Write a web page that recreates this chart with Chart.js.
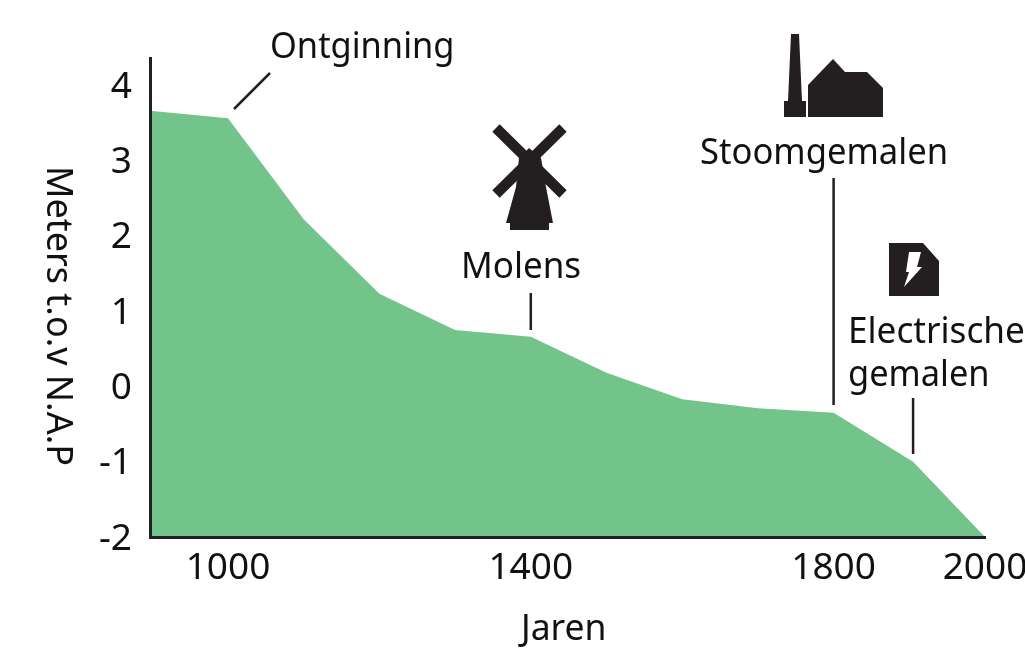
<!DOCTYPE html>
<html lang="en">
<head>
    <meta charset="UTF-8">
    <title>Jaren</title>
    <script src="https://cdn.jsdelivr.net/npm/chart.js"></script>
    <style>
        html, body { margin: 0; padding: 0; background: #fff; overflow: hidden; }
        #wrap { width: 1025px; height: 648px; }
    </style>
</head>
<body>
    <div id="wrap"><canvas id="chart" width="1025" height="648"></canvas></div>

    <script>
        // Values
        const years = [897, 1000, 1100, 1200, 1300, 1400, 1500, 1600, 1700, 1800, 1905, 2000];
        const heights = [3.66, 3.56, 2.22, 1.23, 0.75, 0.66, 0.18, -0.17, -0.29, -0.35, -1.0, -2];
        const xTicks = [1000, 1400, 1800, 2000];
        const yTicks = [-2, -1, 0, 1, 2, 3, 4];
        const xTitle = 'Jaren';
        const yTitle = 'Meters t.o.v N.A.P';

        const ink = '#231f20';
        const green = '#73c48a';
        const fontName = '"Noto Sans"';

        function poly(ctx, pts, color) {
            ctx.fillStyle = color;
            ctx.beginPath();
            pts.forEach((p, i) => i ? ctx.lineTo(p[0], p[1]) : ctx.moveTo(p[0], p[1]));
            ctx.closePath();
            ctx.fill();
        }

        function leader(ctx, x1, y1, x2, y2) {
            ctx.strokeStyle = ink;
            ctx.lineWidth = 2.5;
            ctx.beginPath();
            ctx.moveTo(x1, y1);
            ctx.lineTo(x2, y2);
            ctx.stroke();
        }

        // text is a bit narrower than Noto Sans, so squeeze it horizontally
        function label(ctx, text, x, y, squeeze) {
            ctx.save();
            ctx.translate(x, y);
            ctx.scale(squeeze, 1);
            ctx.fillStyle = '#111';
            ctx.font = '37px ' + fontName;
            ctx.textAlign = 'left';
            ctx.textBaseline = 'alphabetic';
            ctx.fillText(text, 0, 0);
            ctx.restore();
        }

        // Annotations, icons and the axis titles
        const notes = {
            id: 'notes',
            afterDraw(chart) {
                const ctx = chart.ctx;
                const sx = chart.scales.x;
                ctx.save();

                label(ctx, 'Ontginning', 270, 58, 0.93);
                label(ctx, 'Molens', 461, 278, 0.946);
                label(ctx, 'Stoomgemalen', 700, 164, 0.935);
                label(ctx, 'Electrische', 848, 343, 0.95);
                label(ctx, 'gemalen', 848, 386, 0.93);
                label(ctx, xTitle, 521, 640, 0.96);

                ctx.lineCap = 'butt';
                leader(ctx, 234, 109, 270, 73);
                leader(ctx, sx.getPixelForValue(1400), 293, sx.getPixelForValue(1400), 330);
                leader(ctx, sx.getPixelForValue(1800), 178, sx.getPixelForValue(1800), 405);
                leader(ctx, sx.getPixelForValue(1905), 398, sx.getPixelForValue(1905), 454);

                // molen
                ctx.strokeStyle = ink;
                ctx.lineWidth = 10.5;
                ctx.beginPath();
                ctx.moveTo(496, 128); ctx.lineTo(563, 194);
                ctx.moveTo(563, 128); ctx.lineTo(496, 194);
                ctx.stroke();
                poly(ctx, [[529, 148], [519, 158], [516, 187], [506, 223], [510, 223], [510, 230],
                    [549, 230], [549, 223], [553, 223], [546, 187], [541, 158]], ink);

                // stoomgemaal
                poly(ctx, [[791, 34], [799, 34], [802, 101], [806, 101], [806, 117], [784, 117], [784, 101], [788, 101]], ink);
                poly(ctx, [[808, 85], [833, 59], [845, 72], [867, 72], [883, 88], [883, 117], [808, 117]], ink);

                // electrisch gemaal
                poly(ctx, [[889, 243], [923, 243], [939, 261], [939, 296], [889, 296]], ink);
                poly(ctx, [[909, 252], [921, 252], [917, 267], [922, 267], [904, 287], [909, 272], [906, 272]], '#fff');

                // y title reads top to bottom
                ctx.translate(58, 316);
                ctx.rotate(Math.PI / 2);
                ctx.scale(0.97, 1);
                ctx.fillStyle = '#111';
                ctx.font = '37px ' + fontName;
                ctx.textAlign = 'center';
                ctx.textBaseline = 'middle';
                ctx.fillText(yTitle, 0, 0);
                ctx.restore();
            }
        };

        new Chart(document.getElementById('chart'), {
            type: 'line',
            data: {
                datasets: [{
                    data: years.map((y, i) => ({ x: y, y: heights[i] })),
                    borderWidth: 0,
                    backgroundColor: green,
                    pointRadius: 0,
                    tension: 0,
                    fill: 'start'
                }]
            },
            plugins: [notes],
            options: {
                responsive: false,
                animation: false,
                layout: { autoPadding: false, padding: { top: 58, right: 40, bottom: 0, left: 0 } },
                plugins: { legend: { display: false }, tooltip: { enabled: false } },
                scales: {
                    x: {
                        type: 'linear',
                        min: 897,
                        max: 2000,
                        afterFit: s => { s.height = 111; s.paddingLeft = 0; s.paddingRight = 0; },
                        afterBuildTicks: s => { s.ticks = xTicks.map(v => ({ value: v })); },
                        grid: { display: false, drawTicks: false },
                        border: { color: ink, width: 3, z: 1 },
                        ticks: { color: '#111', padding: 9, maxRotation: 0, autoSkip: false, font: { family: 'Noto Sans', size: 37 }, callback: v => String(v) }
                    },
                    y: {
                        min: -2,
                        max: 4.36,
                        afterFit: s => { s.width = 150; },
                        afterBuildTicks: s => { s.ticks = yTicks.map(v => ({ value: v })); },
                        grid: { display: false, drawTicks: false },
                        border: { color: ink, width: 3, z: 1 },
                        ticks: { color: '#111', padding: 18, labelOffset: 2, autoSkip: false, font: { family: 'Noto Sans', size: 37 }, callback: v => String(v) }
                    }
                }
            }
        });
    </script>
</body>
</html>
